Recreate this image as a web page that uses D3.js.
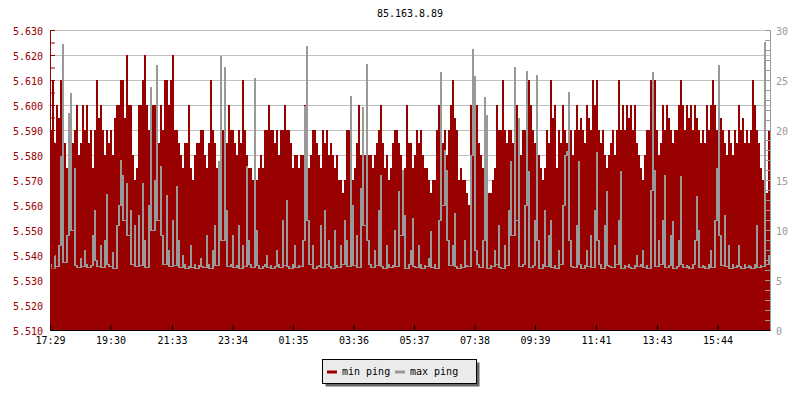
<!DOCTYPE html>
<html>
<head>
<meta charset="utf-8">
<script src="https://cdn.jsdelivr.net/npm/d3@7"></script>
<style>
body { margin: 0; background: #fff; }
text { font-family: "DejaVu Sans Mono", monospace; font-size: 10px; }
</style>
</head>
<body>
<div id="chart"></div>
<script>
// min ping (ms), one value every 4 minutes from 17:29, left axis
var minPing = [
  5.59,5.61,5.585,5.60,5.595,5.61,5.60,5.585,5.575,5.59,5.60,5.585,5.59,5.60,5.58,5.585,5.60,5.59,5.60,5.585,
  5.59,5.575,5.59,5.61,5.595,5.60,5.59,5.58,5.59,5.585,5.59,5.58,5.595,5.60,5.60,5.61,5.61,5.595,5.62,5.60,
  5.60,5.58,5.57,5.575,5.60,5.60,5.61,5.62,5.60,5.59,5.585,5.60,5.60,5.59,5.585,5.60,5.59,5.61,5.61,5.60,
  5.61,5.62,5.59,5.59,5.585,5.58,5.575,5.585,5.585,5.60,5.575,5.57,5.58,5.585,5.585,5.59,5.59,5.58,5.575,5.585,
  5.61,5.59,5.585,5.575,5.57,5.58,5.59,5.59,5.585,5.60,5.59,5.59,5.585,5.58,5.59,5.585,5.61,5.59,5.58,5.575,
  5.575,5.57,5.58,5.57,5.575,5.58,5.575,5.59,5.59,5.60,5.59,5.59,5.585,5.59,5.58,5.59,5.59,5.60,5.59,5.59,
  5.585,5.575,5.58,5.58,5.575,5.58,5.58,5.60,5.58,5.575,5.58,5.59,5.59,5.585,5.58,5.575,5.59,5.585,5.59,5.58,
  5.585,5.58,5.575,5.58,5.57,5.57,5.565,5.57,5.59,5.59,5.575,5.57,5.575,5.585,5.60,5.58,5.575,5.58,5.575,5.58,
  5.58,5.575,5.58,5.585,5.59,5.60,5.585,5.575,5.58,5.57,5.575,5.585,5.59,5.59,5.585,5.58,5.57,5.575,5.60,5.585,
  5.585,5.575,5.58,5.59,5.585,5.59,5.58,5.575,5.575,5.57,5.565,5.57,5.57,5.59,5.60,5.59,5.585,5.59,5.58,5.59,
  5.60,5.61,5.595,5.59,5.57,5.575,5.57,5.57,5.565,5.56,5.60,5.60,5.59,5.60,5.585,5.58,5.575,5.57,5.57,5.565,
  5.565,5.57,5.575,5.60,5.59,5.59,5.61,5.59,5.585,5.59,5.59,5.585,5.59,5.60,5.585,5.58,5.59,5.59,5.585,5.61,
  5.60,5.59,5.585,5.575,5.58,5.575,5.57,5.575,5.59,5.585,5.61,5.595,5.60,5.575,5.59,5.585,5.60,5.59,5.585,5.58,
  5.59,5.58,5.59,5.60,5.59,5.595,5.59,5.585,5.60,5.595,5.59,5.61,5.60,5.61,5.59,5.585,5.59,5.58,5.575,5.58,
  5.585,5.59,5.58,5.59,5.61,5.59,5.60,5.59,5.60,5.595,5.60,5.59,5.60,5.585,5.58,5.575,5.57,5.58,5.59,5.59,
  5.61,5.60,5.61,5.59,5.58,5.585,5.60,5.59,5.60,5.595,5.59,5.585,5.59,5.59,5.60,5.61,5.60,5.59,5.60,5.595,
  5.60,5.59,5.60,5.595,5.59,5.585,5.59,5.585,5.60,5.59,5.60,5.61,5.60,5.59,5.60,5.595,5.59,5.585,5.58,5.59,
  5.585,5.58,5.59,5.585,5.60,5.59,5.595,5.585,5.59,5.585,5.59,5.61,5.60,5.59,5.585,5.575,5.57,5.56,5.565,5.59
];

// max ping (ms), same timestamps, right axis
var maxPing = [
  6.6,6.2,7.5,6.4,8.5,17.4,28.6,6.8,9.5,21.7,23.7,10,16.2,6.5,6.3,7.2,6.4,8,6.6,6.3,
  6.5,9.5,12,7,6.4,8.5,6.3,9,13.6,6.6,6.4,7.8,6.2,10.5,12.5,17,15.5,11,14.7,9.5,
  12,6.6,10.5,6.4,11.5,6.5,14.7,9,6.3,12.5,24.3,10,15,26.5,11,16.4,9.5,6.6,13.5,8,
  6.4,11,6.5,14.4,9,6.3,7.5,6.6,6.2,6.4,8.5,6.3,6.6,6.2,6.5,7.2,6.4,6.3,9.5,6.6,
  6.2,8,10.5,6.5,16.9,27.4,9,26.3,12,6.4,6.6,9.5,6.3,6.5,10.5,6.2,8.5,6.4,16.4,9,
  6.6,6.3,25.2,10,6.5,6.2,6.4,6.6,7.5,6.3,6.5,6.2,6.4,8,6.6,6.3,11,6.5,13,6.4,
  6.2,6.6,8.5,6.3,6.5,6.4,9,22.4,28.4,11,6.6,8.5,6.2,6.4,6.5,10.5,6.3,12,6.6,9,
  6.4,6.2,10,6.5,6.3,8.5,6.6,11,9,6.4,23.4,12.5,6.5,9.5,6.3,14.2,22.3,10.5,26.6,9,
  6.6,6.3,8,6.5,12,15.5,6.4,6.2,8.5,6.6,6.3,6.5,10,6.4,13.9,9.5,16,11.5,6.2,6.6,
  8,11.2,6.4,6.3,8.5,6.6,6.2,6.5,6.4,7.2,9.9,6.3,6.6,6.2,11,25.8,12.5,18,16,9,
  6.5,8.5,11.7,6.4,6.2,6.6,6.3,9,6.5,6.4,17.5,28.1,25.4,8,6.6,6.3,9,23.3,21.5,6.2,
  6.5,6.4,8,6.6,10.5,6.3,6.2,8.5,6.5,12,16.9,9.5,26.3,11,21.2,6.4,6.6,12.5,25.9,15.9,
  6.3,6.5,11,25.5,9,6.2,6.6,12,6.4,9.5,11,6.3,6.5,6.2,8,6.6,12.5,17.5,17.9,23.8,
  9,6.4,6.3,10.5,16.9,6.6,6.2,6.5,8,6.4,9.5,6.3,12,17.8,9,6.6,6.2,10.5,13.9,6.5,
  6.4,6.3,8.5,6.6,11,15.9,6.2,6.5,6.4,6.6,6.3,6.2,6.5,7.5,6.4,6.6,8,6.3,6.5,6.2,
  14,25.8,16,6.4,9,6.6,11,15.5,6.3,6.5,9.5,10.9,6.2,6.4,9,15.4,6.6,6.3,6.5,6.4,
  6.2,6.6,9,13.4,10,6.3,6.5,6.4,6.2,6.6,8,6.3,11,16.2,26.5,9.5,6.5,11.5,6.4,8.5,
  6.2,6.6,6.3,6.5,8.5,6.4,6.2,6.6,6.3,6.5,6.4,6.2,6.6,10.5,6.3,6.5,6.4,28.8,6.6,7.5
];

var timeLabels = ["17:29","19:30","21:33","23:34","01:35","03:36","05:37","07:38","09:39","11:41","13:43","15:44"];
var leftTicks = [5.51,5.52,5.53,5.54,5.55,5.56,5.57,5.58,5.59,5.60,5.61,5.62,5.63];
var rightTicks = [0,5,10,15,20,25,30];
var title = "85.163.8.89";

var red = "#990000", grey = "#999999";

// set the dimensions and margins of the graph
var margin = {top: 30, right: 30, bottom: 70, left: 50},
    width = 800 - margin.left - margin.right,
    height = 400 - margin.top - margin.bottom;

var svg0 = d3.select("#chart")
  .append("svg")
    .attr("width", 800)
    .attr("height", 400);
var svg = svg0.append("g")
    .attr("transform", "translate(" + margin.left + "," + margin.top + ")");

// time: 24 hours starting 17:29, a sample every 4 minutes
var start = new Date(2020, 0, 1, 17, 29);
var step = 4 * 60000;
var end = new Date(+start + 24 * 3600000);
var data = minPing.map(function(d, i) {
  return {t: new Date(+start + i * step), min: d, max: maxPing[i]};
});
// last sample holds until the end of the graph
data.push({t: end, min: minPing[minPing.length - 1], max: maxPing[maxPing.length - 1]});

var x = d3.scaleTime().domain([start, end]).range([0, width]);
var y = d3.scaleLinear().domain([5.51, 5.63]).range([height, 0]);
var y2 = d3.scaleLinear().domain([0, 30]).range([height, 0]);

var tickDates = timeLabels.map(function(s) {
  var p = s.split(":"), m = +p[0] * 60 + +p[1], m0 = 17 * 60 + 29;
  if (m < m0) m += 1440;
  return new Date(+start + (m - m0) * 60000);
});

// grid lines
svg.selectAll(".grid")
  .data(leftTicks.slice(1))
  .enter().append("line")
    .attr("x1", 0).attr("x2", width)
    .attr("y1", function(d) { return Math.round(y(d)) + 0.5; })
    .attr("y2", function(d) { return Math.round(y(d)) + 0.5; })
    .attr("stroke", "#c0c0c0");

// min ping area
svg.append("path")
  .datum(data)
  .attr("fill", red)
  .attr("shape-rendering", "crispEdges")
  .attr("d", d3.area()
    .curve(d3.curveStepAfter)
    .x(function(d) { return x(d.t); })
    .y0(height)
    .y1(function(d) { return y(d.min); }));

// max ping: stepped line, each step filled down to its lower neighbour
function lowNeighbour(d, i) {
  var a = data[Math.max(i - 1, 0)].max, b = data[Math.min(i + 1, data.length - 1)].max;
  return Math.round(y2(Math.min(d.max, a, b))) + 1;
}
svg.append("path")
  .datum(data)
  .attr("fill", grey)
  .attr("shape-rendering", "crispEdges")
  .attr("d", d3.area()
    .curve(d3.curveStepAfter)
    .x(function(d) { return x(d.t); })
    .y0(lowNeighbour)
    .y1(function(d) { return Math.round(y2(d.max)); }));

// left axis
var leftMinor = svg.append("g")
  .call(d3.axisLeft(y).tickValues(d3.range(0, 25).map(function(i) { return 5.51 + i * 0.005; }))
    .tickSize(-5).tickFormat(""));
var leftAxis = svg.append("g")
  .call(d3.axisLeft(y).tickValues(leftTicks).tickSize(-5).tickSizeOuter(0)
    .tickPadding(7).tickFormat(d3.format(".3f")));
[leftMinor, leftAxis].forEach(function(a) {
  a.selectAll("path, line").attr("stroke", red);
  a.selectAll("text").attr("fill", red).attr("dy", "0.45em");
  a.attr("font-family", null).attr("font-size", null);
});

// right axis
var rightMinor = svg.append("g")
  .attr("transform", "translate(" + width + ",0)")
  .call(d3.axisRight(y2).tickValues(d3.range(0, 31)).tickSize(-5).tickFormat(""));
var rightAxis = svg.append("g")
  .attr("transform", "translate(" + width + ",0)")
  .call(d3.axisRight(y2).tickValues(rightTicks).tickSize(-5).tickSizeOuter(0).tickPadding(6));
[rightMinor, rightAxis].forEach(function(a) {
  a.selectAll("path, line").attr("stroke", grey);
  a.selectAll("text").attr("fill", grey).attr("dy", "0.45em");
  a.attr("font-family", null).attr("font-size", null);
});

// bottom axis
var xAxis = svg.append("g")
  .attr("transform", "translate(0," + height + ")")
  .call(d3.axisBottom(x).tickValues(tickDates).tickSize(-5).tickSizeOuter(0)
    .tickPadding(7).tickFormat(d3.timeFormat("%H:%M")));
xAxis.attr("font-family", null).attr("font-size", null);
xAxis.selectAll("path, line").attr("stroke", "#000");

// title
svg0.append("text")
  .attr("x", margin.left + width / 2)
  .attr("y", 17)
  .attr("text-anchor", "middle")
  .text(title);

// legend with shadow
var legend = svg0.append("g").attr("transform", "translate(322,359)");
legend.append("rect")
  .attr("x", 3.5).attr("y", 3.5).attr("width", 154).attr("height", 24)
  .attr("fill", "#666");
legend.append("rect")
  .attr("x", 0.5).attr("y", 0.5).attr("width", 154).attr("height", 24)
  .attr("fill", "#ebebeb").attr("stroke", "#000");
var items = [{name: "min ping", color: red, x: 5}, {name: "max ping", color: grey, x: 73}];
items.forEach(function(it) {
  legend.append("line")
    .attr("x1", it.x).attr("x2", it.x + 10)
    .attr("y1", 13).attr("y2", 13)
    .attr("stroke", it.color).attr("stroke-width", 3);
  legend.append("text")
    .attr("x", it.x + 15).attr("y", 16)
    .text(it.name);
});
</script>
</body>
</html>
